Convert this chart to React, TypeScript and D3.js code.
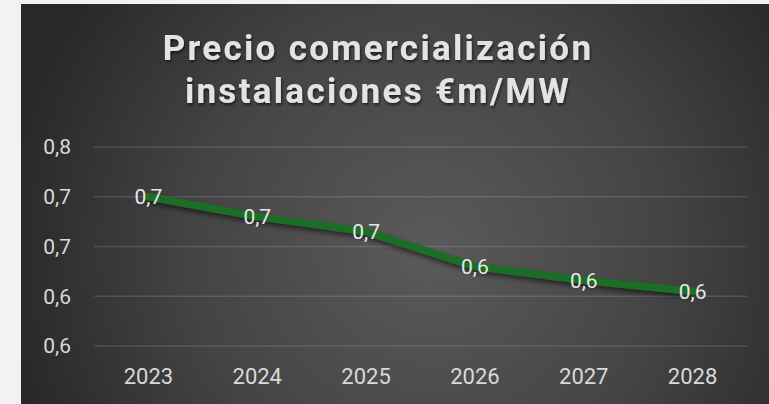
import React from "react";
import * as d3 from "d3";

const years = ["2023", "2024", "2025", "2026", "2027", "2028"];
const prices = [0.70, 0.68, 0.665, 0.63, 0.616, 0.605];
const yTicks = [0.55, 0.6, 0.65, 0.7, 0.75];
const yTickLabels = ["0,6", "0,6", "0,7", "0,7", "0,8"];
const titleLines = ["Precio comercialización", "instalaciones €m/MW"];

const W = 769;
const H = 404;

export default function App() {
  const x = d3.scaleBand<string>().domain(years).range([94, 747]);
  const y = d3.scaleLinear().domain([0.55, 0.75]).range([346, 147]);
  const cx = (d: string) => (x(d) as number) + x.bandwidth() / 2;
  const line = d3
    .line<number>()
    .x((_, i) => cx(years[i]))
    .y((v) => y(v));
  const fmt = (v: number) => v.toFixed(1).replace(".", ",");
  const font = "Roboto, 'Noto Sans', sans-serif";

  return (
    <svg
      width={W}
      height={H}
      style={{ position: "fixed", left: 0, top: 0, display: "block" }}
    >
      <defs>
        <radialGradient id="bg" gradientUnits="userSpaceOnUse" cx={430} cy={250} r={430}>
          <stop offset="0" stopColor="#5a5a5a" />
          <stop offset="0.55" stopColor="#444444" />
          <stop offset="1" stopColor="#282828" />
        </radialGradient>
        <filter id="lineShadow" x="-10%" y="-30%" width="120%" height="160%">
          <feDropShadow dx="0" dy="3" stdDeviation="2.5" floodColor="#000" floodOpacity="0.55" />
        </filter>
        <filter id="textShadow" x="-10%" y="-30%" width="120%" height="160%">
          <feDropShadow dx="1" dy="2" stdDeviation="1.5" floodColor="#000" floodOpacity="0.6" />
        </filter>
      </defs>
      <rect x={0} y={0} width={W} height={H} fill="#f2f2f2" />
      <rect x={21} y={4} width={W - 21} height={H - 4} fill="url(#bg)" />

      {titleLines.map((t, i) => (
        <text
          key={t}
          x={378}
          y={60 + i * 43}
          textAnchor="middle"
          fontFamily={font}
          fontWeight={700}
          fontSize={35}
          letterSpacing={2.3}
          fill="#e3e3e3"
          filter="url(#textShadow)"
        >
          {t}
        </text>
      ))}

      {yTicks.map((t, i) => (
        <g key={i}>
          <line x1={94} x2={747} y1={y(t)} y2={y(t)} stroke="#ffffff" strokeOpacity={0.13} strokeWidth={1.5} />
          <text
            x={71}
            y={y(t)}
            dy="0.35em"
            textAnchor="end"
            fontFamily={font}
            fontSize={21}
            fill="#d9d9d9"
          >
            {yTickLabels[i]}
          </text>
        </g>
      ))}

      {years.map((yr) => (
        <text
          key={yr}
          x={cx(yr)}
          y={384}
          textAnchor="middle"
          fontFamily={font}
          fontSize={22}
          fill="#d9d9d9"
        >
          {yr}
        </text>
      ))}

      <path
        d={line(prices) || ""}
        fill="none"
        stroke="#1f6e25"
        strokeWidth={7.5}
        strokeLinejoin="round"
        strokeLinecap="round"
        filter="url(#lineShadow)"
      />

      {prices.map((v, i) => (
        <text
          key={i}
          x={cx(years[i])}
          y={y(v)}
          dy="0.35em"
          textAnchor="middle"
          fontFamily={font}
          fontSize={21}
          fill="#e6e6e6"
        >
          {fmt(v)}
        </text>
      ))}
    </svg>
  );
}
